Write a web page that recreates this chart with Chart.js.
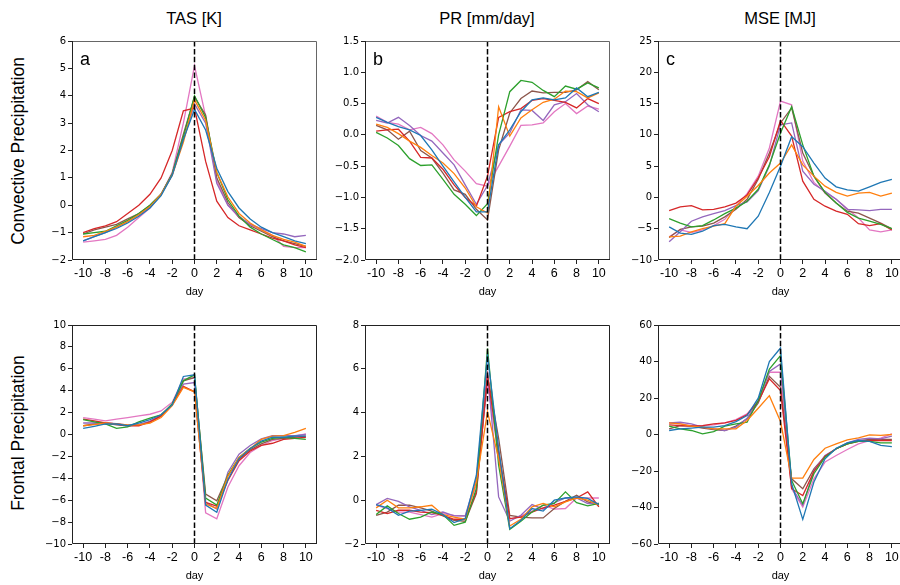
<!DOCTYPE html>
<html>
<head>
<meta charset="utf-8">
<script src="https://cdn.jsdelivr.net/npm/chart.js@4.4.0/dist/chart.umd.min.js"></script>
<style>
  body { margin: 0; width: 900px; height: 585px; overflow: hidden; background: #fff; position: relative;
         font-family: "Liberation Sans", Arial, sans-serif; color: #000; }
  canvas { position: absolute; }
  .col { position: absolute; top: 8px; font-size: 16.5px; line-height: 20px; transform: translateX(-50%); white-space: nowrap; }
  .row { position: absolute; font-size: 17.5px; line-height: 20px; white-space: nowrap;
         transform: translate(-50%, -50%) rotate(-90deg); }
  .tag { position: absolute; font-size: 18px; line-height: 20px; }
</style>
</head>
<body>

<div class="col" style="left:194px">TAS [K]</div>
<div class="col" style="left:487px">PR [mm/day]</div>
<div class="col" style="left:780px">MSE [MJ]</div>
<div class="row" style="left:18px; top:151px">Convective Precipitation</div>
<div class="row" style="left:18px; top:433px">Frontal Precipitation</div>

<script>
const days = [-10, -9, -8, -7, -6, -5, -4, -3, -2, -1, 0, 1, 2, 3, 4, 5, 6, 7, 8, 9, 10];
const xTicks = [-10, -8, -6, -4, -2, 0, 2, 4, 6, 8, 10];
const colors = ["#1f77b4", "#ff7f0e", "#2ca02c", "#d62728", "#9467bd", "#8c564b", "#e377c2"];

// one row per member, same order as colors
const convTas = [
  [-1.3, -1.15, -1.0, -0.85, -0.65, -0.4, -0.1, 0.35, 1.1, 2.4, 3.5, 2.75, 1.35, 0.5, -0.1, -0.5, -0.8, -1.0, -1.15, -1.3, -1.4],
  [-1.15, -1.1, -0.95, -0.8, -0.6, -0.35, -0.05, 0.4, 1.1, 2.3, 3.85, 3.1, 1.2, 0.3, -0.3, -0.65, -0.9, -1.1, -1.25, -1.35, -1.5],
  [-1.05, -1.0, -0.95, -0.75, -0.55, -0.3, 0.0, 0.4, 1.15, 2.5, 4.0, 3.2, 1.2, 0.2, -0.4, -0.8, -1.05, -1.25, -1.45, -1.55, -1.7],
  [-1.0, -0.85, -0.75, -0.6, -0.3, 0.0, 0.4, 1.0, 2.0, 3.45, 3.55, 1.6, 0.15, -0.45, -0.75, -0.9, -1.05, -1.2, -1.3, -1.45, -1.55],
  [-1.3, -1.15, -1.0, -0.8, -0.6, -0.35, -0.05, 0.4, 1.1, 2.4, 3.7, 3.0, 0.8, 0.0, -0.4, -0.7, -0.85, -1.0, -1.05, -1.15, -1.1],
  [-1.05, -0.9, -0.8, -0.7, -0.5, -0.3, 0.0, 0.4, 1.15, 2.6, 3.95, 3.3, 1.0, 0.1, -0.45, -0.75, -0.95, -1.15, -1.3, -1.4, -1.5],
  [-1.35, -1.3, -1.25, -1.1, -0.8, -0.45, -0.1, 0.4, 1.2, 3.0, 5.1, 3.25, 0.9, 0.0, -0.45, -0.7, -0.9, -1.1, -1.5, -1.55, -1.55]
];
const convPr = [
  [0.28, 0.2, 0.13, 0.08, -0.01, -0.24, -0.5, -0.75, -1.0, -1.23, -1.23, -0.16, 0.08, 0.37, 0.56, 0.59, 0.56, 0.59, 0.75, 0.61, 0.68],
  [0.17, 0.12, 0.02, -0.1, -0.2, -0.33, -0.45, -0.62, -0.85, -1.15, -1.25, 0.45, -0.02, 0.27, 0.4, 0.52, 0.57, 0.7, 0.69, 0.59, 0.67],
  [0.04, -0.05, -0.17, -0.38, -0.49, -0.48, -0.71, -0.95, -1.11, -1.29, -1.1, 0.0, 0.69, 0.87, 0.84, 0.71, 0.61, 0.78, 0.73, 0.83, 0.75],
  [0.06, 0.08, 0.09, -0.1, -0.36, -0.37, -0.55, -0.8, -1.0, -1.14, -0.66, 0.28, 0.37, 0.42, 0.55, 0.58, 0.55, 0.52, 0.43, 0.58, 0.5],
  [0.23, 0.19, 0.28, 0.15, -0.01, -0.1, -0.29, -0.48, -0.8, -1.11, -0.81, -0.16, 0.03, 0.4, 0.39, 0.23, 0.48, 0.53, 0.66, 0.48, 0.37],
  [0.15, 0.08, -0.07, 0.06, -0.25, -0.37, -0.61, -0.88, -0.95, -1.19, -1.36, -0.24, 0.35, 0.58, 0.7, 0.67, 0.68, 0.68, 0.72, 0.85, 0.72],
  [0.3, 0.2, 0.17, 0.08, 0.12, 0.02, -0.16, -0.4, -0.58, -0.78, -0.82, -0.5, -0.18, 0.15, 0.16, 0.19, 0.37, 0.5, 0.34, 0.46, 0.41]
];
const convMse = [
  [-4.7, -5.7, -5.9, -5.4, -4.5, -4.3, -4.7, -5.0, -3.0, 0.8, 5.0, 9.7, 8.1, 5.5, 3.1, 1.7, 1.2, 1.0, 1.7, 2.4, 2.9],
  [-6.3, -6.2, -5.5, -5.0, -4.6, -4.2, -1.4, 0.2, 1.9, 3.9, 5.5, 8.4, 5.2, 3.4, 1.8, 0.8, 0.2, 0.7, 0.8, 0.2, 0.7],
  [-3.4, -4.1, -4.7, -4.5, -3.6, -2.6, -1.7, -0.6, 1.3, 5.2, 10.3, 14.5, 8.4, 3.4, 0.8, -0.9, -2.4, -3.3, -3.8, -4.3, -5.0],
  [-2.1, -1.5, -1.3, -2.0, -1.9, -1.5, -0.9, 0.4, 3.1, 6.5, 12.3, 9.8, 2.6, -0.3, -1.4, -2.2, -2.7, -4.2, -4.5, -4.2, -5.2],
  [-7.1, -5.5, -3.8, -3.1, -2.6, -2.1, -1.3, -0.7, 1.1, 5.0, 11.6, 11.9, 4.2, 2.1, 1.0, -0.3, -1.9, -2.0, -2.1, -1.9, -1.9],
  [-6.4, -5.1, -4.7, -4.6, -4.1, -3.1, -1.9, -0.3, 2.9, 7.1, 11.9, 14.3, 7.1, 3.4, 0.7, -0.9, -2.2, -2.5, -3.3, -4.1, -5.0],
  [-6.3, -5.2, -5.6, -5.2, -4.5, -3.5, -1.4, 0.6, 3.4, 7.9, 15.4, 14.8, 5.8, 2.4, 0.8, -0.3, -1.8, -3.3, -5.2, -5.5, -5.2]
];
const frontTas = [
  [0.56, 0.75, 0.96, 0.96, 0.8, 1.05, 1.35, 1.8, 2.7, 5.3, 5.45, -6.45, -7.1, -4.1, -2.2, -1.3, -0.6, -0.25, -0.25, -0.15, -0.15],
  [0.8, 0.9, 1.05, 0.96, 0.87, 0.87, 1.05, 1.55, 2.65, 4.3, 3.9, -6.35, -6.75, -3.8, -2.1, -1.3, -0.45, -0.15, -0.1, 0.2, 0.56],
  [1.35, 1.15, 0.96, 0.56, 0.7, 1.15, 1.5, 1.8, 2.8, 4.9, 5.45, -5.8, -6.45, -3.7, -2.1, -1.25, -0.7, -0.35, -0.25, -0.35, -0.45],
  [1.4, 1.25, 1.05, 0.96, 0.8, 0.8, 1.15, 1.7, 2.7, 4.4, 3.9, -6.2, -6.55, -4.2, -2.4, -1.5, -1.0, -0.8, -0.45, -0.35, -0.25],
  [1.05, 1.05, 1.05, 1.0, 0.85, 0.9, 1.2, 1.7, 2.75, 4.6, 4.75, -6.2, -6.8, -3.45, -1.8, -1.0, -0.4, -0.1, -0.1, -0.1, 0.0],
  [0.8, 0.96, 1.05, 0.87, 0.8, 0.87, 1.15, 1.7, 2.8, 4.9, 5.2, -5.45, -6.05, -3.75, -2.25, -1.4, -0.85, -0.45, -0.35, -0.25, -0.15],
  [1.55, 1.4, 1.25, 1.4, 1.55, 1.7, 1.85, 2.15, 2.95, 5.05, 5.2, -7.15, -7.7, -4.8, -2.85, -1.65, -1.0, -0.55, -0.35, -0.15, 0.05]
];
const frontPr = [
  [-0.2, -0.35, -0.69, -0.5, -0.46, -0.41, -0.66, -1.02, -0.84, 1.14, 6.63, 2.36, -1.3, -0.92, -0.38, -0.5, 0.0, 0.1, 0.15, 0.08, -0.2],
  [-0.35, 0.0, -0.35, -0.35, -0.3, -0.23, -0.66, -0.77, -0.87, 0.84, 4.04, 1.9, -1.18, -0.87, -0.3, -0.15, -0.3, -0.08, 0.1, 0.0, -0.23],
  [-0.65, -0.26, -0.61, -0.87, -0.77, -0.54, -0.66, -1.15, -1.0, 0.53, 6.93, 1.6, -1.33, -0.96, -0.54, -0.23, -0.15, 0.38, -0.11, -0.26, -0.15],
  [-0.46, -0.61, -0.46, -0.46, -0.54, -0.57, -0.69, -0.87, -0.87, 0.38, 5.71, 2.2, -0.84, -0.77, -0.54, -0.35, -0.23, -0.05, 0.1, 0.38, -0.3],
  [-0.2, 0.08, -0.05, -0.3, -0.46, -0.66, -0.54, -0.72, -0.72, 0.99, 5.87, 0.15, -0.96, -0.69, -0.2, -0.41, -0.11, 0.1, 0.1, -0.15, -0.15],
  [-0.69, -0.54, -0.23, -0.23, -0.35, -0.5, -0.72, -0.92, -0.96, 0.3, 5.71, 2.82, -0.69, -0.77, -0.81, -0.81, -0.38, -0.05, 0.23, -0.08, -0.23],
  [-0.23, -0.38, -0.54, -0.54, -0.66, -0.77, -0.61, -0.69, -0.72, 0.69, 5.33, 2.05, -0.87, -0.72, -0.5, -0.23, -0.41, -0.38, 0.1, 0.1, 0.1]
];
const frontMse = [
  [2.2, 3.1, 3.5, 4.0, 4.0, 4.9, 7.1, 10.4, 19.9, 39.9, 47.4, -27, -46.5, -26, -13.3, -7.5, -4.6, -3.3, -3.8, -6.0, -6.6],
  [6.4, 5.8, 4.6, 4.0, 3.1, 3.1, 3.1, 7.7, 14.4, 21.3, 7.1, -23.9, -23.9, -13.7, -7.5, -5.1, -2.9, -1.8, -0.2, -0.5, 0.0],
  [4.6, 3.1, 2.2, 0.4, 1.6, 4.6, 5.8, 6.7, 18.6, 35.9, 43.2, -25.2, -37.9, -21.5, -12.4, -7.8, -5.1, -3.8, -3.8, -4.6, -4.6],
  [5.3, 4.9, 4.6, 4.9, 5.8, 6.4, 7.7, 10.8, 18.1, 30.5, 24.1, -29.7, -33.4, -20.2, -11.9, -7.8, -5.1, -3.8, -3.3, -3.3, -3.3],
  [6.4, 6.7, 5.8, 4.0, 3.1, 2.2, 4.0, 8.9, 18.1, 34.5, 38.7, -28.8, -38.8, -19.7, -11.5, -7.8, -4.6, -2.7, -2.0, -2.4, -0.9],
  [3.1, 4.9, 4.6, 3.5, 2.7, 2.2, 4.6, 8.6, 17.3, 31.9, 25.9, -24.3, -29.7, -18.8, -11.9, -7.8, -5.1, -3.3, -2.7, -2.7, -2.7],
  [6.4, 5.8, 4.9, 4.9, 5.3, 6.4, 8.2, 11.3, 18.6, 34.1, 34.1, -29.7, -39.8, -24.3, -15.1, -11.5, -8.2, -5.1, -3.3, -2.0, 0.4]
];

const ticksTas = [-2, -1, 0, 1, 2, 3, 4, 5, 6];
const ticksPr = [-2.0, -1.5, -1.0, -0.5, 0.0, 0.5, 1.0, 1.5];
const ticksMse = [-10, -5, 0, 5, 10, 15, 20, 25];
const ticksFrontTas = [-10, -8, -6, -4, -2, 0, 2, 4, 6, 8, 10];
const ticksFrontPr = [-2, 0, 2, 4, 6, 8];
const ticksFrontMse = [-60, -40, -20, 0, 20, 40, 60];

// axes boxes in page pixels
const colLeft = [72, 365, 658];
const rowTop = [41, 325];
const AX_W = 245, AX_H = 219;
const PAD_L = 50, PAD_T = 10, PAD_R = 10, PAD_B = 42;

const panels = [
  { data: convTas, ticks: ticksTas, dec: 0, col: 0, row: 0, tag: "a" },
  { data: convPr, ticks: ticksPr, dec: 1, col: 1, row: 0, tag: "b" },
  { data: convMse, ticks: ticksMse, dec: 0, col: 2, row: 0, tag: "c" },
  { data: frontTas, ticks: ticksFrontTas, dec: 0, col: 0, row: 1 },
  { data: frontPr, ticks: ticksFrontPr, dec: 0, col: 1, row: 1 },
  { data: frontMse, ticks: ticksFrontMse, dec: 0, col: 2, row: 1 }
];

// frame around the plot area plus the dashed line at day 0
const framePlugin = {
  id: "frame",
  afterDatasetsDraw(chart, args, opts) {
    const { ctx, chartArea: a } = chart;
    const x0 = chart.scales.x.getPixelForValue(0);
    ctx.save();
    ctx.strokeStyle = "#000";
    ctx.lineWidth = 1.5;
    ctx.setLineDash([5.5, 2.4]);
    ctx.beginPath();
    ctx.moveTo(x0, a.top);
    ctx.lineTo(x0, a.bottom);
    ctx.stroke();
    ctx.setLineDash([]);
    ctx.lineWidth = 1;
    ctx.strokeStyle = opts.topColor;
    ctx.beginPath();
    ctx.moveTo(a.left, a.top + 0.5);
    ctx.lineTo(a.right - 0.5, a.top + 0.5);
    ctx.lineTo(a.right - 0.5, a.bottom);
    ctx.stroke();
    ctx.strokeStyle = "#222";
    ctx.beginPath();
    ctx.moveTo(a.left + 0.5, a.top);
    ctx.lineTo(a.left + 0.5, a.bottom - 0.5);
    ctx.lineTo(a.right, a.bottom - 0.5);
    ctx.stroke();
    ctx.restore();
  }
};

const fmt = (v, dec) => (v < 0 ? "\u2212" : "") + Math.abs(v).toFixed(dec);

panels.forEach(p => {
  const left = colLeft[p.col], top = rowTop[p.row];
  const canvas = document.createElement("canvas");
  canvas.width = PAD_L + AX_W + PAD_R;
  canvas.height = PAD_T + AX_H + PAD_B;
  canvas.style.left = (left - PAD_L) + "px";
  canvas.style.top = (top - PAD_T) + "px";
  document.body.appendChild(canvas);

  if (p.tag) {
    const t = document.createElement("div");
    t.className = "tag";
    t.textContent = p.tag;
    t.style.left = (left + 8) + "px";
    t.style.top = (top + 8) + "px";
    document.body.appendChild(t);
  }

  new Chart(canvas, {
    type: "line",
    data: {
      datasets: p.data.map((vals, i) => ({
        data: days.map((d, j) => ({ x: d, y: vals[j] })),
        borderColor: colors[i],
        borderWidth: 1.3,
        pointRadius: 0,
        fill: false,
        tension: 0
      }))
    },
    options: {
      responsive: false,
      animation: false,
      devicePixelRatio: 1,
      layout: { padding: { top: PAD_T, right: PAD_R, left: 0, bottom: 0 } },
      plugins: { legend: { display: false }, tooltip: { enabled: false }, frame: { topColor: p.row === 0 ? "#666" : "#222" } },
      scales: {
        x: {
          type: "linear", min: -11, max: 11,
          afterBuildTicks: s => { s.ticks = xTicks.map(v => ({ value: v })); },
          afterFit: s => { s.height = PAD_B; },
          border: { display: false },
          grid: { drawOnChartArea: false, drawTicks: true, tickLength: 4, color: "#222" },
          ticks: {
            padding: 2, color: "#000", maxRotation: 0, autoSkip: false,
            font: { family: "'Liberation Sans', Arial, sans-serif", size: 12.5 },
            callback: v => String(v)
          },
          title: {
            display: true, text: "day", color: "#000",
            font: { family: "'Liberation Sans', Arial, sans-serif", size: 11 },
            padding: { top: 0, bottom: 3 }
          }
        },
        y: {
          type: "linear", min: p.ticks[0], max: p.ticks[p.ticks.length - 1],
          afterBuildTicks: s => { s.ticks = p.ticks.map(v => ({ value: v })); },
          afterFit: s => { s.width = PAD_L; },
          border: { display: false },
          grid: { drawOnChartArea: false, drawTicks: true, tickLength: 4, color: "#222" },
          ticks: {
            padding: 2, color: "#000", autoSkip: false,
            font: { family: "'DejaVu Sans', sans-serif", size: 10 },
            callback: v => fmt(v, p.dec)
          }
        }
      }
    },
    plugins: [framePlugin]
  });
});
</script>
</body>
</html>
